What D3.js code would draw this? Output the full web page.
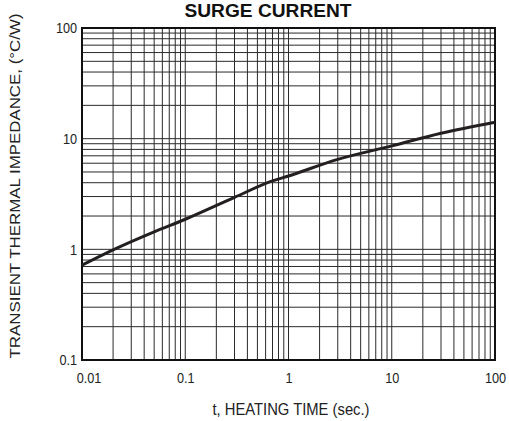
<!DOCTYPE html>
<html>
<head>
<meta charset="utf-8">
<script src="https://cdn.jsdelivr.net/npm/d3@7"></script>
<style>
  body { margin: 0; background: #fff; }
  svg { display: block; }
</style>
</head>
<body>
<svg width="509" height="421"></svg>
<script>
// heating time (sec) vs transient thermal impedance (C/W)
var timeSec = [0.01, 0.02, 0.05, 0.1, 0.3, 0.7, 1, 3, 10, 30, 100];
var impedance = [0.72, 0.99, 1.44, 1.87, 2.95, 4.15, 4.6, 6.5, 8.6, 11.2, 14.1];

var xTicks = [0.01, 0.1, 1, 10, 100];
var xTickLabels = ["0.01", "0.1", "1", "10", "100"];
var yTicks = [0.1, 1, 10, 100];
var yTickLabels = ["0.1", "1", "10", "100"];

var svg = d3.select("svg"),
    width = +svg.attr("width"),
    height = +svg.attr("height");

var font = "Liberation Sans, Arial, sans-serif";
var margin = {top: 28, right: 14, bottom: 61, left: 82};
var x = d3.scaleLog().domain([0.01, 100]).range([margin.left, width - margin.right]);
var y = d3.scaleLog().domain([0.1, 100]).range([height - margin.bottom, margin.top]);

// log grid: 1..9 in every decade
function logGrid(lo, hi) {
    var out = [];
    for (var d = lo; d < hi; d *= 10) {
        for (var k = 1; k <= 9; k++) out.push(d * k);
    }
    out.push(hi);
    return out;
}

var grid = svg.append("g").attr("stroke", "#2a2a2a").attr("stroke-width", 1);

grid.selectAll(".vx")
    .data(logGrid(0.01, 100))
    .enter().append("line")
    .attr("x1", d => x(d)).attr("x2", d => x(d))
    .attr("y1", y(100)).attr("y2", y(0.1));

grid.selectAll(".hy")
    .data(logGrid(0.1, 100))
    .enter().append("line")
    .attr("y1", d => y(d)).attr("y2", d => y(d))
    .attr("x1", x(0.01)).attr("x2", x(100));

// frame
svg.append("rect")
    .attr("x", x(0.01)).attr("y", y(100))
    .attr("width", x(100) - x(0.01))
    .attr("height", y(0.1) - y(100))
    .attr("fill", "none")
    .attr("stroke", "#111")
    .attr("stroke-width", 2);

// curve
var line = d3.line()
    .x((d, i) => x(timeSec[i]))
    .y(d => y(d))
    .curve(d3.curveMonotoneX);

svg.append("path")
    .datum(impedance)
    .attr("d", line)
    .attr("fill", "none")
    .attr("stroke", "#231f20")
    .attr("stroke-width", 3);

// axes (labels only)
var xAxis = svg.append("g")
    .attr("transform", "translate(0," + y(0.1) + ")")
    .call(d3.axisBottom(x).tickValues(xTicks).tickFormat((d, i) => xTickLabels[i]).tickSize(0).tickPadding(12));

var yAxis = svg.append("g")
    .attr("transform", "translate(" + x(0.01) + ",0)")
    .call(d3.axisLeft(y).tickValues(yTicks).tickFormat((d, i) => yTickLabels[i]).tickSize(0).tickPadding(6));

// labels in the picture are a narrow face, so squeeze them
[xAxis, yAxis].forEach(function(a) {
    a.select(".domain").remove();
    a.selectAll("text")
        .attr("font-family", font)
        .attr("font-size", 15.5)
        .attr("transform", "scale(0.82,1)")
        .attr("fill", "#222");
});
// first x label sits right of the corner
xAxis.selectAll("text").filter((d, i) => i == 0).attr("dx", 8);

svg.append("text")
    .attr("x", 268)
    .attr("y", 17)
    .attr("text-anchor", "middle")
    .attr("font-family", font)
    .attr("font-weight", "bold")
    .attr("font-size", 18.5)
    .attr("textLength", 167)
    .attr("lengthAdjust", "spacingAndGlyphs")
    .attr("fill", "#111")
    .text("SURGE CURRENT");

svg.append("text")
    .attr("x", 291)
    .attr("y", 415)
    .attr("text-anchor", "middle")
    .attr("font-family", font)
    .attr("font-size", 16.5)
    .attr("textLength", 157)
    .attr("lengthAdjust", "spacingAndGlyphs")
    .attr("fill", "#222")
    .text("t, HEATING TIME (sec.)");

svg.append("text")
    .attr("transform", "translate(20,186) rotate(-90)")
    .attr("text-anchor", "middle")
    .attr("font-family", font)
    .attr("font-size", 15)
    .attr("textLength", 345)
    .attr("lengthAdjust", "spacingAndGlyphs")
    .attr("fill", "#222")
    .text("TRANSIENT THERMAL IMPEDANCE, (°C/W)");
</script>
</body>
</html>
